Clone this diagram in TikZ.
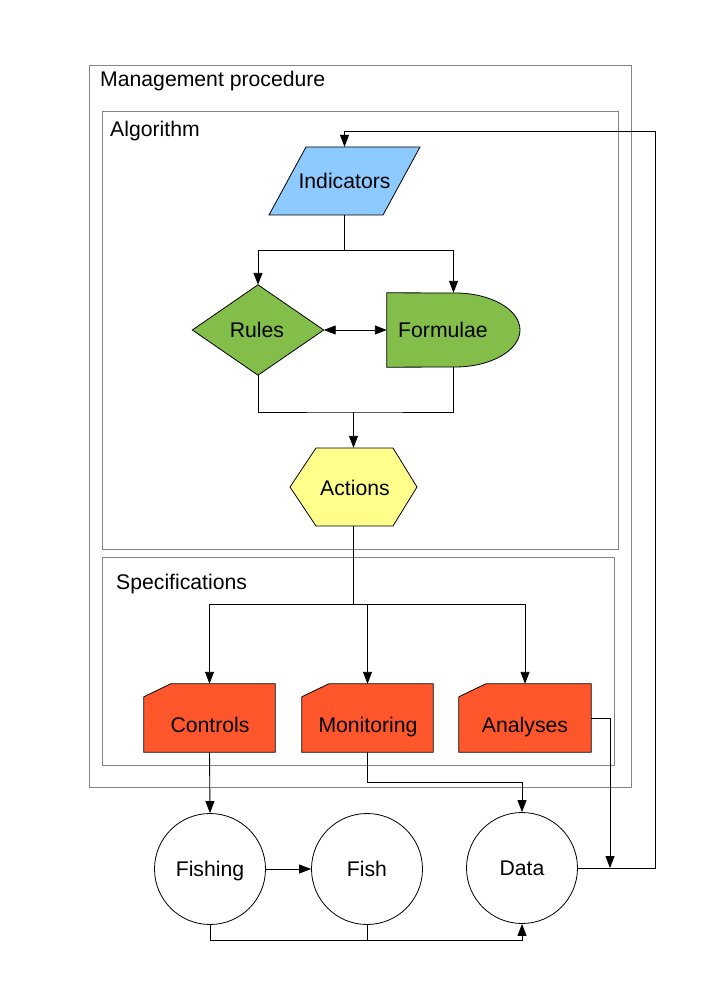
\documentclass[tikz,border=0pt]{standalone}
\usepackage{fontspec}
\setmainfont{Liberation Sans}
\usetikzlibrary{arrows.meta,backgrounds}
\definecolor{cblue}{RGB}{140,202,255}
\definecolor{cgreen}{RGB}{131,189,74}
\definecolor{cyellow}{RGB}{255,255,140}
\definecolor{cred}{RGB}{255,87,43}
\begin{document}
\begin{tikzpicture}[x=1pt,y=-1pt,
  font=\fontsize{21.2}{25}\selectfont,
  >={Triangle[length=12pt,width=9pt]},
  frame/.style={draw=black!48, line width=1pt},
  conn/.style={draw=black, line width=0.9pt},
  shp/.style={draw=black, line width=0.8pt},
  boxlbl/.style={anchor=base west, inner sep=0pt},
  holder/.style={draw=none, inner sep=0pt, rectangle},
  txt/.style={inner sep=0pt, text height=15.2pt, text depth=0pt},
  circ/.style={circle, draw=black, line width=0.8pt, minimum size=111pt, inner sep=0pt, text height=15.2pt, text depth=0pt}]
\useasboundingbox (0,0) rectangle (712,1008);

% frames
\draw[frame] (89,66) rectangle (631,787);
\node[boxlbl] (mp) at (100,87) {Management procedure};
\draw[frame] (102,112) rectangle (618,549);
\node[boxlbl] (alg) at (110,137) {Algorithm};
\draw[frame] (102,557) rectangle (614,765);
\node[boxlbl] (spec) at (116,589) {Specifications};

% shape holders
\node[holder, minimum width=151pt, minimum height=68pt] (ind) at (344.5,181) {};
\node[holder, minimum width=131pt, minimum height=90pt] (rules) at (258,330) {};
\node[holder, minimum width=133pt, minimum height=74pt] (formshape) at (453.5,330) {};
\node[holder, minimum width=127pt, minimum height=78pt] (act) at (353.5,487) {};
\node[holder, minimum width=131pt, minimum height=68pt] (ctrl) at (209.5,718) {};
\node[holder, minimum width=131pt, minimum height=68pt] (mon) at (367.5,718) {};
\node[holder, minimum width=132pt, minimum height=68pt] (anal) at (525,718) {};

\begin{pgfonlayer}{background}
\fill[white] (0,0) rectangle (712,1008);
\draw[shp, fill=cblue] (306,147) -- (420,147) -- (383,215) -- (269,215) -- cycle;
\draw[shp, fill=cgreen] (rules.west) -- (rules.north) -- (rules.east) -- (rules.south) -- cycle;
\draw[shp, fill=cgreen] (formshape.south west) -- (formshape.north west) -- (455,293)
   arc[start angle=90, end angle=-90, x radius=65pt, y radius=37pt] -- cycle;
\draw[shp, fill=cyellow] (290,487) -- (316,448) -- (393,448) -- (417,487) -- (393,526) -- (316,526) -- cycle;
\foreach \n in {ctrl,mon,anal}{
  \draw[shp, fill=cred] ([yshift=-13pt]\n.north west) -- ([xshift=27pt]\n.north west)
     -- (\n.north east) -- (\n.south east) -- (\n.south west) -- cycle;
}
\end{pgfonlayer}

% texts
\node[txt] (indT) at (344.5,181) {Indicators};
\node[txt] (rulesT) at (257,330) {Rules};
\node[txt] (formT) at (443,330) {Formulae};
\node[txt] (actT) at (355,488) {Actions};
\node[txt] (ctrlT) at (210,725) {Controls};
\node[txt] (monT) at (368,725) {Monitoring};
\node[txt] (analT) at (525,725) {Analyses};

% circles
\node[circ] (fishing) at (210,869) {Fishing};
\node[circ] (fish) at (367,869) {Fish};
\node[circ] (data) at (522,868) {Data};

% coordinates
\coordinate (m1) at (344.5,250);
\coordinate (m2) at (353.5,412);
\coordinate (m3) at (353.5,604);
\coordinate (loopR) at (655,131);
\coordinate (aj) at (610,868);

% connectors
\draw[conn] (ind.south) -- (m1);
\draw[conn,->] (m1) -| (rules.north);
\draw[conn,->] (m1) -| (formshape.north);
\draw[conn,<->] (rules.east) -- (formshape.west);
\draw[conn] (rules.south) |- (m2) -| (formshape.south);
\draw[conn,->] (m2) -- (act.north);
\draw[conn] (act.south) -- (m3);
\draw[conn,->] (m3) -| (ctrl.north);
\draw[conn,->] (m3) -| (mon.north);
\draw[conn,->] (m3) -| (anal.north);
\draw[conn,->] (ctrl.south) -- (fishing.north);
\draw[conn,->] (mon.south) -- ++(0,30) -| (data.north);
\draw[conn,->] (anal.east) -| (aj);
\draw[conn,->] (fishing.east) -- (fish.west);
\draw[conn,->] (fishing.south) -- ++(0,16) -| (data.south);
\draw[conn] (fish.south) -- ++(0,16);
\draw[conn,->] (data.east) -| (loopR) -| (ind.north);
\end{tikzpicture}
\end{document}
